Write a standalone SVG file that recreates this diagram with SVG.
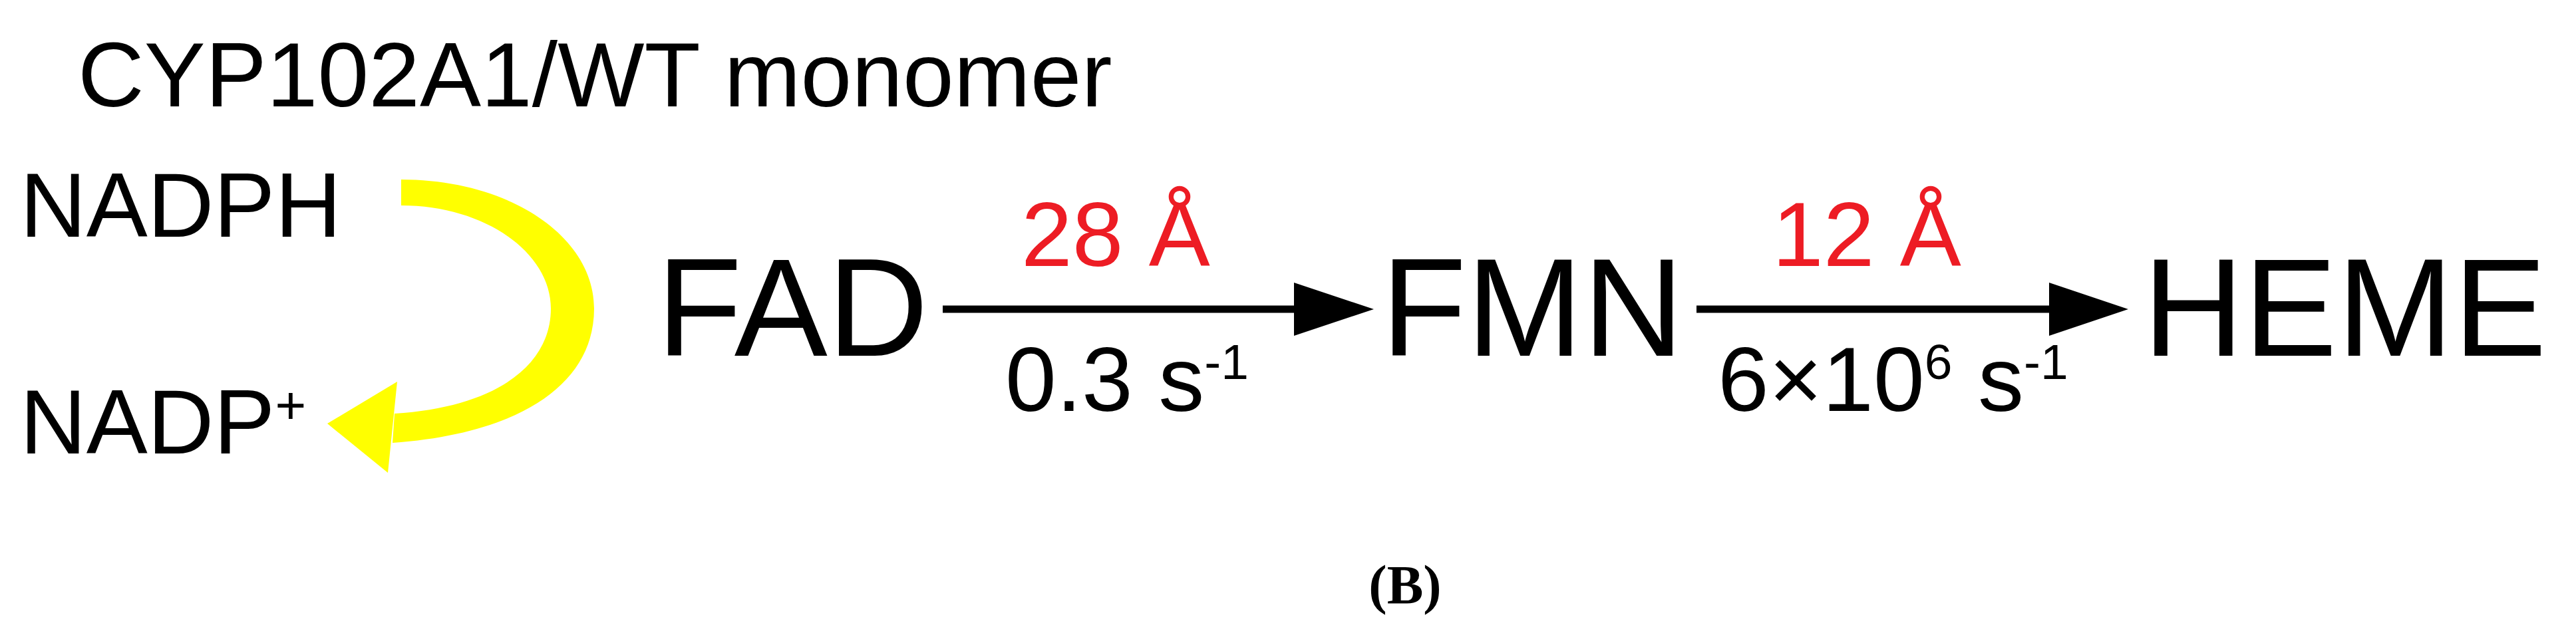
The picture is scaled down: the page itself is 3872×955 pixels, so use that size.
<svg xmlns="http://www.w3.org/2000/svg" width="3872" height="955" viewBox="0 0 3872 955">
<style>
text{font-family:"Liberation Sans",Arial,sans-serif;fill:#000}
.n{font-size:138px}
.big{font-size:210px}
.red{fill:#ED1C24}
.sup{font-size:75px}
.plus{font-size:80px}
.cap{font-family:"Liberation Serif","Times New Roman",serif;font-weight:bold;font-size:82px}
.ln{stroke:#000;stroke-width:11;fill:none}
</style>
<rect width="3872" height="955" fill="#fff"/>
<g id="title"><text class="n" x="117" y="160">CYP102A1/WT monomer</text></g>
<g id="nadph"><text class="n" x="30" y="356">NADPH</text></g>
<g id="nadp"><text class="n" x="30" y="682">NADP<tspan class="plus" dy="-45">+</tspan></text></g>
<g id="yellow-arrow" fill="#FFFF00">
<path d="M603,270 C765,270 893,355 893,464 C893,578 782,652 590,666 L593,622 C748,612 828,548 828,464 C828,380 729,309 603,309 Z"/>
<polygon points="492,637 597,574 583,711"/>
</g>
<g id="fad"><text class="big" x="987" y="535">FAD</text></g>
<g id="fmn"><text class="big" x="2076" y="535">FMN</text></g>
<g id="heme"><text class="big" x="3221" y="535">HEME</text></g>
<g id="connectors">
<line class="ln" x1="1417" y1="465" x2="1950" y2="465"/>
<polygon points="1945,425 2065,465 1945,505"/>
<line class="ln" x1="2550" y1="465" x2="3085" y2="465"/>
<polygon points="3080,425 3199,465 3080,505"/>
</g>
<g id="label1">
<text class="n red" x="1535" y="400">28 Å</text>
<text class="n" x="1511" y="618">0.3 s<tspan class="sup" dy="-48">-1</tspan></text>
</g>
<g id="label2">
<text class="n red" x="2664" y="400">12 Å</text>
<text class="n" x="2582" y="618">6×10<tspan class="sup" dy="-48">6</tspan><tspan dy="48"> s</tspan><tspan class="sup" dy="-48">-1</tspan></text>
</g>
<g id="caption"><text class="cap" x="2112" y="907" text-anchor="middle">(B)</text></g>
</svg>
